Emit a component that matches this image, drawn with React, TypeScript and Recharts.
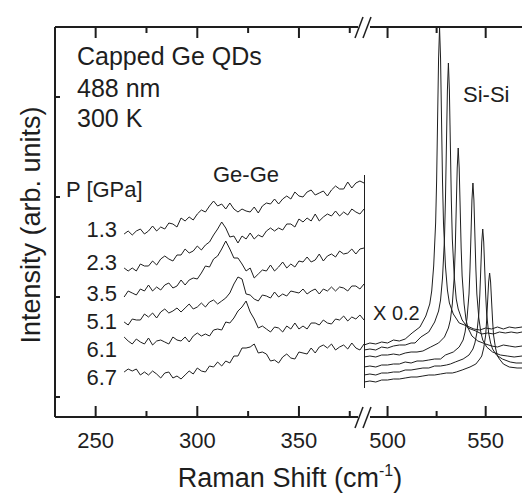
import { LineChart, Line, XAxis, YAxis, ReferenceLine } from 'recharts';

const FONT = "'Liberation Sans', Arial, Helvetica, sans-serif";
const INK = '#1e1e1e';

// frame of the plot, in page pixels
const W = 522;
const H = 494;
const TOP = 27;
const BOTTOM = 417;
const LEFT = 55;
const SPLIT = 364; // where the axis break sits

const Y_DOMAIN = [-20, 370];
const LEFT_DOMAIN = [230, 382];
const RIGHT_DOMAIN = [488, 568.5];
const leftTicks = [250, 275, 300, 325, 350, 375];
const rightTicks = [500, 525, 550];
const yTicks = [0, 100, 200, 300];

const pressures = ['1.3', '2.3', '3.5', '5.1', '6.1', '6.7'];

// Ge-Ge region (left part of the broken axis)
const geShift = [
    264, 266, 268, 270, 272, 274, 276, 278, 280, 282,
    284, 286, 288, 290, 292, 294, 296, 298, 300, 302,
    304, 306, 308, 310, 312, 314, 316, 318, 320, 322,
    324, 326, 328, 330, 332, 334, 336, 338, 340, 342,
    344, 346, 348, 350, 352, 354, 356, 358, 360, 362,
    364, 366, 368, 370, 372, 374, 376, 378, 380, 382,
];
const ge13 = [163, 166, 162, 166, 168, 163, 166, 171, 166, 170, 168, 174, 173, 170, 179, 176, 180, 177, 183, 187, 185, 191, 196, 191, 193, 188, 194, 188, 185, 188, 186, 185, 190, 184, 191, 194, 193, 198, 193, 198, 201, 198, 205, 201, 200, 205, 207, 202, 204, 206, 201, 207, 211, 208, 208, 215, 209, 214, 216, 214];
const ge23 = [129, 126, 129, 126, 133, 131, 131, 136, 132, 138, 141, 138, 136, 142, 142, 148, 144, 146, 151, 147, 152, 155, 162, 168, 175, 169, 160, 161, 154, 161, 158, 164, 158, 162, 160, 166, 169, 166, 169, 167, 173, 173, 170, 178, 175, 179, 176, 183, 176, 180, 183, 181, 186, 181, 185, 182, 188, 185, 183, 188];
const ge35 = [100, 106, 104, 102, 108, 106, 112, 106, 110, 107, 112, 114, 109, 111, 117, 112, 117, 119, 118, 124, 131, 130, 138, 141, 148, 156, 148, 139, 139, 133, 126, 129, 119, 123, 127, 126, 132, 126, 130, 135, 129, 133, 130, 136, 135, 140, 135, 137, 143, 136, 141, 143, 140, 146, 143, 144, 148, 143, 148, 149];
const ge51 = [75, 72, 78, 77, 77, 83, 80, 84, 79, 85, 88, 84, 86, 89, 85, 89, 93, 88, 90, 94, 90, 95, 97, 93, 96, 99, 104, 113, 120, 118, 103, 102, 98, 96, 102, 101, 99, 105, 100, 103, 101, 106, 105, 104, 108, 103, 106, 108, 103, 108, 106, 110, 106, 110, 109, 106, 111, 111, 108, 113];
const ge61 = [60, 56, 53, 58, 55, 53, 59, 52, 56, 57, 55, 53, 60, 57, 56, 60, 55, 61, 64, 61, 63, 61, 67, 68, 67, 75, 74, 79, 86, 90, 96, 85, 78, 69, 71, 68, 65, 70, 69, 65, 71, 68, 74, 68, 71, 68, 74, 74, 72, 77, 74, 73, 78, 77, 81, 76, 80, 78, 82, 77];
const ge67 = [25, 28, 26, 28, 22, 25, 22, 26, 23, 19, 24, 25, 19, 21, 18, 22, 26, 23, 29, 26, 25, 31, 30, 35, 31, 36, 34, 41, 41, 49, 49, 50, 53, 44, 45, 43, 36, 37, 34, 40, 43, 39, 38, 45, 44, 43, 49, 44, 50, 52, 49, 53, 47, 50, 52, 48, 54, 49, 47, 53];

// Si-Si region (right part, x 0.2)
const siShift13 = [488, 491, 494, 497, 500, 503, 506, 509, 512.5, 516.5, 519.5, 521.5, 522.5, 523.5, 524.5, 525, 525.5, 526, 526.5, 527, 527.5, 528, 528.5, 529.5, 530.5, 531.5, 533.5, 536.5, 540.5, 544, 547, 550, 553, 556, 559, 562, 565, 568.5];
const si13 = [52, 54, 53, 55, 54, 57, 56, 58, 64, 70, 81, 93, 106, 131, 174, 216, 278, 339, 369, 339, 278, 216, 174, 131, 107, 94, 83, 74, 71, 68, 67, 69, 68, 70, 68, 70, 69, 70];
const siShift23 = [488, 491, 494, 497, 500, 503, 506, 509, 512, 514, 517, 521, 524, 526, 527, 528, 529, 529.5, 530, 530.5, 531, 531.5, 532, 532.5, 533, 534, 535, 536, 538, 541, 545, 548, 551, 554, 557, 560, 563, 566, 568.5];
const si23 = [47, 48, 47, 50, 49, 51, 52, 52, 54, 54, 60, 65, 75, 86, 97, 119, 158, 197, 252, 307, 334, 307, 252, 197, 158, 120, 98, 88, 77, 69, 66, 63, 64, 63, 65, 64, 65, 64, 65];
const siShift35 = [488, 491, 494, 497, 500, 503, 506, 509, 512, 515, 518, 522, 526, 529, 531, 532, 533, 534, 534.5, 535, 535.5, 536, 536.5, 537, 537.5, 538, 539, 540, 541, 543, 546, 550, 553, 556, 559, 562, 565, 568.5];
const si35 = [40, 41, 40, 42, 42, 43, 42, 44, 45, 45, 46, 50, 54, 60, 69, 77, 93, 121, 149, 189, 229, 249, 229, 189, 149, 121, 93, 77, 69, 61, 56, 53, 51, 50, 52, 51, 50, 51];
const siShift51 = [488, 491, 494, 497, 500, 503, 506, 509, 512, 515, 518, 521, 524, 527, 529.5, 533.5, 536.5, 538.5, 539.5, 540.5, 541.5, 542, 542.5, 543, 543.5, 544, 544.5, 545, 545.5, 546.5, 547.5, 548.5, 550.5, 553.5, 557.5, 561, 564.5, 568.5];
const si51 = [30, 31, 30, 32, 32, 33, 33, 35, 34, 36, 36, 37, 38, 38, 42, 45, 50, 57, 65, 79, 103, 128, 162, 197, 214, 197, 162, 128, 103, 79, 65, 57, 50, 45, 42, 41, 40, 41];
const siShift61 = [488, 491, 494, 497, 500, 503, 506, 509, 512, 515, 518, 521, 524, 527, 530, 532, 534.5, 538.5, 541.5, 543.5, 544.5, 545.5, 546.5, 547, 547.5, 548, 548.5, 549, 549.5, 550, 550.5, 551.5, 552.5, 553.5, 555.5, 558.5, 562.5, 565.5, 568.5];
const si61 = [22, 23, 22, 24, 24, 25, 25, 27, 27, 28, 29, 29, 31, 31, 32, 33, 35, 38, 42, 48, 54, 64, 83, 102, 128, 155, 168, 155, 128, 102, 83, 64, 54, 48, 42, 38, 35, 34, 34];
const siShift67 = [488, 491, 494, 497, 500, 503, 506, 509, 512, 515, 518, 521, 524, 527, 530, 533, 535, 538, 542, 545, 547, 548, 549, 550, 550.5, 551, 551.5, 552, 552.5, 553, 553.5, 554, 555, 556, 557, 559, 562, 566, 568.5];
const si67 = [15, 16, 15, 17, 17, 18, 18, 19, 20, 20, 21, 22, 22, 23, 24, 24, 25, 27, 30, 33, 38, 41, 49, 62, 77, 96, 115, 124, 115, 96, 77, 62, 49, 41, 38, 33, 30, 29, 29];

const zip = (xs: number[], vs: number[]) => vs.map((v, i) => ({ x: xs[i], v }));

const geSeries = [ge13, ge23, ge35, ge51, ge61, ge67].map(vs => zip(geShift, vs));
const siSeries = [
    zip(siShift13, si13), zip(siShift23, si23), zip(siShift35, si35),
    zip(siShift51, si51), zip(siShift61, si61), zip(siShift67, si67),
];

// label baselines for the pressure column
const pressureLabelY = [237, 270, 301, 329, 357, 385];

const txt = { fontFamily: FONT, fill: INK };
const axisStroke = { stroke: INK, strokeWidth: 2 };

const xTickLabel = (p: any) =>
    p.payload.value % 50 === 0 ? (
        <text x={p.x} y={BOTTOM + 31} textAnchor="middle" fontSize={22} {...txt}>
            {p.payload.value}
        </text>
    ) : (
        <g />
    );
const yTick = (p: any) => <line x1={LEFT} y1={p.y} x2={LEFT + 5} y2={p.y} stroke={INK} strokeWidth={2} />;

// same linear mapping the two panels use, for the inward x tick marks
const panelX = (t: number, domain: number[], x0: number, x1: number) =>
    x0 + ((t - domain[0]) / (domain[1] - domain[0])) * (x1 - x0);
const tickXs = [
    ...leftTicks.map(t => ({ t, px: panelX(t, LEFT_DOMAIN, LEFT, SPLIT) })),
    ...rightTicks.map(t => ({ t, px: panelX(t, RIGHT_DOMAIN, SPLIT, W) })),
];

// the x axes get 1px of height each (an axis of height 0 is not drawn)
const margin = { top: TOP - 1, right: 0, bottom: H - BOTTOM - 1, left: 0 };

export default function App() {
    return (
        <div style={{ position: 'absolute', left: 0, top: 0, width: W, height: H, background: '#fff' }}>
            <div style={{ position: 'absolute', left: 0, top: 0 }}>
                <LineChart width={SPLIT} height={H} margin={margin}>
                    <XAxis xAxisId="b" type="number" dataKey="x" domain={LEFT_DOMAIN} ticks={leftTicks} interval={0}
                        tick={xTickLabel} tickLine={false} tickSize={0} tickMargin={0} height={1}
                        axisLine={axisStroke} allowDataOverflow />
                    <XAxis xAxisId="t" orientation="top" type="number" dataKey="x" domain={LEFT_DOMAIN}
                        tick={false} tickLine={false} height={1} axisLine={axisStroke} allowDataOverflow />
                    <YAxis type="number" domain={Y_DOMAIN} ticks={yTicks} interval={0} tick={yTick}
                        tickLine={false} tickSize={0} tickMargin={0} width={LEFT} axisLine={axisStroke} allowDataOverflow />
                    {geSeries.map((d, i) => (
                        <Line key={pressures[i]} xAxisId="b" data={d} dataKey="v" name={pressures[i]} type="linear"
                            stroke={INK} strokeWidth={1} dot={false} isAnimationActive={false} />
                    ))}
                </LineChart>
            </div>
            <div style={{ position: 'absolute', left: SPLIT, top: 0 }}>
                <LineChart width={W - SPLIT} height={H} margin={margin}>
                    <XAxis xAxisId="b" type="number" dataKey="x" domain={RIGHT_DOMAIN} ticks={rightTicks} interval={0}
                        tick={xTickLabel} tickLine={false} tickSize={0} tickMargin={0} height={1}
                        axisLine={axisStroke} allowDataOverflow />
                    <XAxis xAxisId="t" orientation="top" type="number" dataKey="x" domain={RIGHT_DOMAIN}
                        tick={false} tickLine={false} height={1} axisLine={axisStroke} allowDataOverflow />
                    <YAxis hide type="number" domain={Y_DOMAIN} allowDataOverflow />
                    <ReferenceLine xAxisId="b" segment={[{ x: RIGHT_DOMAIN[0], y: 9 }, { x: RIGHT_DOMAIN[0], y: 222 }]}
                        stroke={INK} strokeWidth={2} />
                    {siSeries.map((d, i) => (
                        <Line key={pressures[i]} xAxisId="b" data={d} dataKey="v" name={pressures[i]} type="linear"
                            stroke={INK} strokeWidth={1} dot={false} isAnimationActive={false} />
                    ))}
                </LineChart>
            </div>
            <svg width={W} height={H} style={{ position: 'absolute', left: 0, top: 0, pointerEvents: 'none' }}>
                {/* inward ticks on bottom and top edges, majors every 50 cm-1 */}
                {tickXs.map(({ t, px }) => {
                    const len = t % 50 === 0 ? 11 : 6;
                    return (
                        <g key={t}>
                            <line x1={px} y1={BOTTOM} x2={px} y2={BOTTOM - len} stroke={INK} strokeWidth={2} />
                            <line x1={px} y1={TOP} x2={px} y2={TOP + len} stroke={INK} strokeWidth={2} />
                        </g>
                    );
                })}
                {/* axis break marks */}
                {[TOP, BOTTOM].map(y => (
                    <g key={y}>
                        <rect x={SPLIT - 6} y={y - 2} width={12} height={4} fill="#fff" />
                        <line x1={SPLIT - 9} y1={y + 11} x2={SPLIT - 1} y2={y - 10} stroke={INK} strokeWidth={1.5} />
                        <line x1={SPLIT - 1} y1={y + 11} x2={SPLIT + 7} y2={y - 10} stroke={INK} strokeWidth={1.5} />
                    </g>
                ))}
                <text x={77} y={65} fontSize={25} {...txt}>Capped Ge QDs</text>
                <text x={77} y={97} fontSize={25} {...txt}>488 nm</text>
                <text x={77} y={127} fontSize={25} {...txt}>300 K</text>
                <text x={66} y={197} fontSize={22} {...txt}>P [GPa]</text>
                {pressures.map((p, i) => (
                    <text key={p} x={117} y={pressureLabelY[i]} textAnchor="end" fontSize={22} {...txt}>{p}</text>
                ))}
                <text x={213} y={182} fontSize={22} {...txt}>Ge-Ge</text>
                <text x={463} y={102} fontSize={22} {...txt}>Si-Si</text>
                <text x={373} y={320} fontSize={20} {...txt}>X 0.2</text>
                <text x={290} y={487} textAnchor="middle" fontSize={27} {...txt}>
                    Raman Shift (cm<tspan dy={-11} fontSize={16}>-1</tspan><tspan dy={11}>)</tspan>
                </text>
                <text transform="translate(40,225) rotate(-90)" textAnchor="middle" fontSize={27} {...txt}>
                    Intensity (arb. units)
                </text>
            </svg>
        </div>
    );
}
